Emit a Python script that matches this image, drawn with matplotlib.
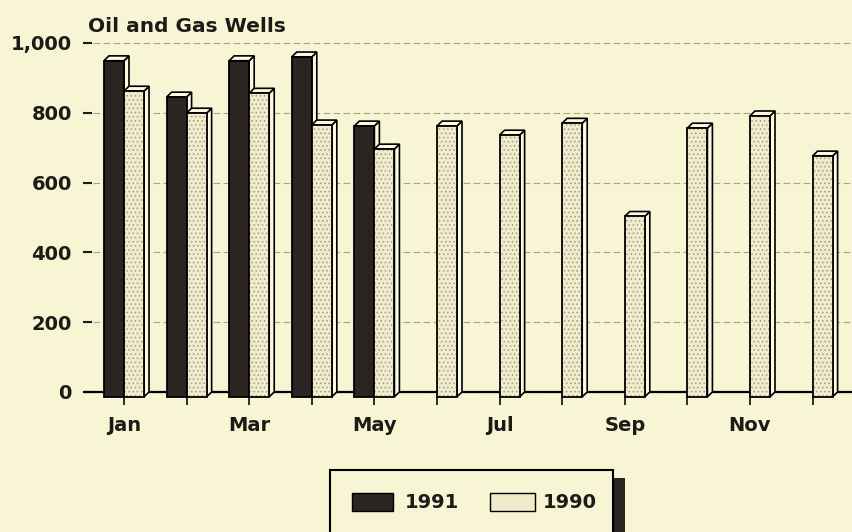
import matplotlib.pyplot as plt
from matplotlib.patches import Polygon, Rectangle

months = ["Jan", "Feb", "Mar", "Apr", "May", "Jun",
          "Jul", "Aug", "Sep", "Oct", "Nov", "Dec"]
wells_1991 = [963, 859, 963, 974, 776]
wells_1990 = [876, 813, 870, 779, 710, 776, 750, 784, 517, 770, 805, 690]
series_names = ["1991", "1990"]
yticks = [0, 200, 400, 600, 800, 1000]
ytick_labels = ["0", "200", "400", "600", "800", "1,000"]

bg = "#f8f5d4"
dark = "#2b2421"
light = "#f0ebcd"
side = "#fbf9e2"

plt.rcParams["font.family"] = "DejaVu Sans"
plt.rcParams["font.weight"] = "bold"
plt.rcParams["hatch.linewidth"] = 0.6

fig = plt.figure(figsize=(8.52, 5.32), dpi=100, facecolor=bg)
ax = fig.add_axes([0.0974, 0.2239, 0.9026, 0.7216])
ax.set_facecolor(bg)

w = 0.32    # bar width (category units)
dx = 0.08   # 3d depth in x
dy = 14     # 3d depth in y


def bar3d(xl, v, face, stipple):
    xr = xl + w
    # side face and top cap
    ax.add_patch(Polygon([(xr, -dy), (xr + dx, 0), (xr + dx, v), (xr, v - dy)],
                         closed=True, facecolor=side, edgecolor="black", lw=1.2, zorder=3))
    ax.add_patch(Polygon([(xl, v - dy), (xl + dx, v), (xr + dx, v), (xr, v - dy)],
                         closed=True, facecolor=side, edgecolor="black", lw=1.2, zorder=3))
    if stipple:
        ax.bar(xl, v, width=w, bottom=-dy, align="edge", color=face,
               edgecolor="#a39b7c", hatch="....", lw=0, zorder=3)
        ax.bar(xl, v, width=w, bottom=-dy, align="edge", fill=False,
               edgecolor="black", lw=1.3, zorder=3)
    else:
        ax.bar(xl, v, width=w, bottom=-dy, align="edge", color=face,
               edgecolor="black", lw=1.3, zorder=3)


for i in range(len(months)):
    if i < len(wells_1991):
        bar3d(i - w, wells_1991[i], dark, False)
    bar3d(i, wells_1990[i], light, True)

ax.axhline(0, color="black", lw=1.6, zorder=2)
ax.set_xlim(-0.655, 11.63)
ax.set_ylim(-60, 1040)

ax.set_yticks(yticks)
ax.set_yticklabels(ytick_labels)
ax.yaxis.grid(True, ls=(0, (6, 3)), color="#aaa48a", lw=0.8)
ax.set_axisbelow(True)
ax.tick_params(axis="y", direction="in", length=6.5, width=1.5, pad=8,
               labelsize=14, colors="#1e1a18")

ax.set_xticks(range(len(months)))
ax.set_xticklabels([m if i % 2 == 0 else "" for i, m in enumerate(months)])
ax.spines["bottom"].set_position(("data", -dy))
ax.tick_params(axis="x", direction="out", length=6, width=1.3, pad=8,
               labelsize=14, colors="#1e1a18")
for s in ax.spines.values():
    s.set_color("none")

fig.text(88 / 852, 1 - 32 / 532, "Oil and Gas Wells", fontsize=14.5,
         fontweight="bold", color="#1e1a18", va="baseline", ha="left")

# legend box with shadow
px = lambda x, y: (x / 852, 1 - y / 532)
fig.patches.append(Rectangle(px(613, 545), 12 / 852, 67 / 532, transform=fig.transFigure,
                             facecolor=dark, edgecolor="none"))
fig.patches.append(Rectangle(px(330, 545), 283 / 852, 75 / 532, transform=fig.transFigure,
                             facecolor=bg, edgecolor="black", lw=1.5))
fig.patches.append(Rectangle(px(352, 511), 41 / 852, 18 / 532, transform=fig.transFigure,
                             facecolor=dark, edgecolor="black", lw=1))
fig.patches.append(Rectangle(px(490, 511), 45 / 852, 18 / 532, transform=fig.transFigure,
                             facecolor=light, edgecolor="black", lw=1))
fig.text(*px(405, 502), series_names[0], fontsize=14, fontweight="bold",
         color="#1e1a18", va="center", ha="left")
fig.text(*px(543, 502), series_names[1], fontsize=14, fontweight="bold",
         color="#1e1a18", va="center", ha="left")

fig.savefig("out.png", dpi=100, facecolor=bg)
